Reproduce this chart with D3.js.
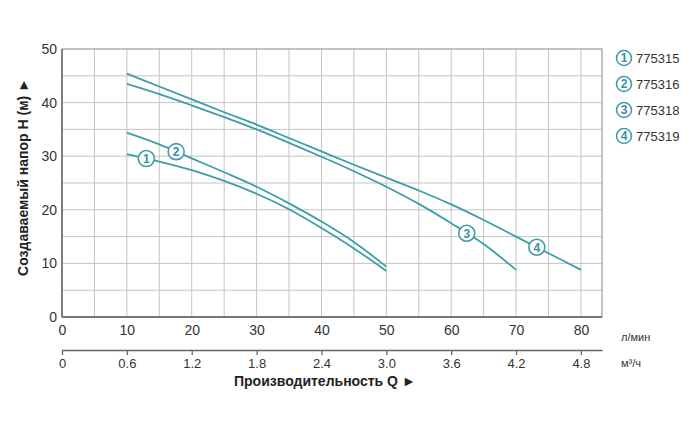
<!DOCTYPE html>
<html><head><meta charset="utf-8">
<script src="https://cdn.jsdelivr.net/npm/d3@7"></script>
<style>body{margin:0;background:#fff}svg{display:block;font-family:"Liberation Sans",Arial,sans-serif}</style>
</head><body><svg id="c" width="700" height="445"></svg>
<script>
// ---- data ----
const models = ["775315", "775316", "775318", "775319"];
const labelNums = ["1", "2", "3", "4"];
const q1 = [10, 15, 20, 25, 30, 35, 40, 45, 50];
const h1 = [30.4, 29.0, 27.4, 25.4, 23.0, 20.1, 16.6, 12.8, 8.6];
const q2 = [10, 15, 20, 25, 30, 35, 40, 45, 50];
const h2 = [34.4, 32.2, 29.6, 27.0, 24.3, 21.2, 17.8, 14.0, 9.4];
const q3 = [10, 15, 20, 25, 30, 35, 40, 45, 50, 55, 60, 65, 70];
const h3 = [43.5, 41.6, 39.5, 37.3, 35.0, 32.5, 29.9, 27.2, 24.3, 21.1, 17.5, 13.6, 8.8];
const q4 = [10, 15, 20, 25, 30, 35, 40, 45, 50, 55, 60, 65, 70, 75, 80];
const h4 = [45.4, 43.0, 40.6, 38.2, 35.9, 33.4, 30.9, 28.4, 26.0, 23.6, 21.0, 18.1, 15.0, 11.9, 8.8];
const labelQ = [13, 17.6, 62.4, 73.2];
const qTicks = [0, 10, 20, 30, 40, 50, 60, 70, 80];
const m3Ticks = [0, 0.6, 1.2, 1.8, 2.4, 3.0, 3.6, 4.2, 4.8];
const hTicks = [0, 10, 20, 30, 40, 50];
const yTitle = "Создаваемый напор H (м) ►";
const xTitle = "Производительность Q ►";
const unitLmin = "л/мин";
const unitM3h = "м³/ч";

// ---- layout ----
const svg = d3.select("#c");
const L = 62, R = 602, T = 49, B = 317;
const qMax = 83.25;
const x = d3.scaleLinear().domain([0, qMax]).range([L, R]);
const y = d3.scaleLinear().domain([0, 50]).range([B, T]);
const xm = d3.scaleLinear().domain([0, qMax * 60 / 1000]).range([L, R]);
const teal = "#3d9dab";
const txt = "#333";

// grid
const g = svg.append("g");
g.selectAll(".vg").data(d3.range(5, 81, 5)).join("line")
  .attr("x1", d => x(d)).attr("x2", d => x(d)).attr("y1", T).attr("y2", B)
  .attr("stroke", "#c4c4c4").attr("stroke-width", 1);
g.selectAll(".hg").data(d3.range(5, 50, 5)).join("line")
  .attr("x1", L).attr("x2", R).attr("y1", d => y(d)).attr("y2", d => y(d))
  .attr("stroke", "#c4c4c4").attr("stroke-width", 1);
// frame
g.append("rect").attr("x", L).attr("y", T).attr("width", R - L).attr("height", B - T)
  .attr("fill", "none").attr("stroke", "#999").attr("stroke-width", 1.2);
g.append("line").attr("x1", L).attr("x2", L).attr("y1", T).attr("y2", B).attr("stroke", "#777").attr("stroke-width", 1.8);
g.append("line").attr("x1", L).attr("x2", R).attr("y1", B).attr("y2", B).attr("stroke", "#777").attr("stroke-width", 1.8);

// axes
const yAx = svg.append("g").attr("transform", `translate(${L},0)`)
  .call(d3.axisLeft(y).tickValues(hTicks).tickSize(0).tickPadding(5).tickFormat(d3.format("d")));
yAx.select(".domain").remove();
yAx.selectAll("text").attr("font-size", 14).attr("fill", txt).attr("font-family", "Liberation Sans, Arial");

const xAx = svg.append("g").attr("transform", `translate(0,${B})`)
  .call(d3.axisBottom(x).tickValues(qTicks).tickSize(0).tickPadding(8).tickFormat(d3.format("d")));
xAx.select(".domain").remove();
xAx.selectAll("text").attr("font-size", 14).attr("fill", txt).attr("font-family", "Liberation Sans, Arial");

const mAx = svg.append("g").attr("transform", `translate(0,350)`)
  .call(d3.axisBottom(xm).tickValues(m3Ticks).tickSize(5).tickSizeOuter(0).tickPadding(4)
    .tickFormat(d => d === 0 ? "0" : d3.format(".1f")(d)));
mAx.select(".domain").attr("stroke", "#666").attr("stroke-width", 1.5);
mAx.selectAll(".tick line").attr("stroke", "#666").attr("stroke-width", 1.3);
mAx.selectAll("text").attr("font-size", 13).attr("fill", txt).attr("font-family", "Liberation Sans, Arial");

// units
svg.append("text").attr("x", 621).attr("y", 341).attr("font-size", 11).attr("fill", txt).text(unitLmin);
svg.append("text").attr("x", 621).attr("y", 367).attr("font-size", 11).attr("fill", txt).text(unitM3h);

// titles
svg.append("text").attr("x", 234).attr("y", 386).attr("font-size", 14).attr("font-weight", "bold")
  .attr("fill", "#222").text(xTitle);
svg.append("text").attr("transform", "translate(28,177) rotate(-90)").attr("text-anchor", "middle")
  .attr("font-size", 14).attr("font-weight", "bold").attr("fill", "#222").text(yTitle);

// curves
const series = [[q1, h1], [q2, h2], [q3, h3], [q4, h4]];
const line = d3.line().x(d => x(d[0])).y(d => y(d[1])).curve(d3.curveMonotoneX);
series.forEach(([qs, hs]) => {
  svg.append("path").datum(qs.map((q, i) => [q, hs[i]]))
    .attr("d", line).attr("fill", "none").attr("stroke", teal).attr("stroke-width", 1.8);
});

// labels on curves
function interp(qs, hs, q) {
  for (let i = 0; i < qs.length - 1; i++) {
    if (q >= qs[i] && q <= qs[i + 1]) {
      const t = (q - qs[i]) / (qs[i + 1] - qs[i]);
      return hs[i] + t * (hs[i + 1] - hs[i]);
    }
  }
  return hs[hs.length - 1];
}
function badge(cx, cy, label, r) {
  const b = svg.append("g").attr("transform", `translate(${cx},${cy})`);
  b.append("circle").attr("r", r).attr("fill", "#fff").attr("stroke", teal).attr("stroke-width", 1.6);
  b.append("text").attr("text-anchor", "middle").attr("dy", "0.36em").attr("font-size", 12)
    .attr("font-weight", "bold").attr("fill", "#3a8f9c").text(label);
}
series.forEach(([qs, hs], i) => {
  badge(x(labelQ[i]), y(interp(qs, hs, labelQ[i])), labelNums[i], 8);
});

// legend
models.forEach((m, i) => {
  const cy = 58 + i * 26;
  badge(624, cy, labelNums[i], 7.5);
  svg.append("text").attr("x", 636).attr("y", cy).attr("dy", "0.36em").attr("font-size", 13)
    .attr("fill", txt).text(m);
});
</script></body></html>
